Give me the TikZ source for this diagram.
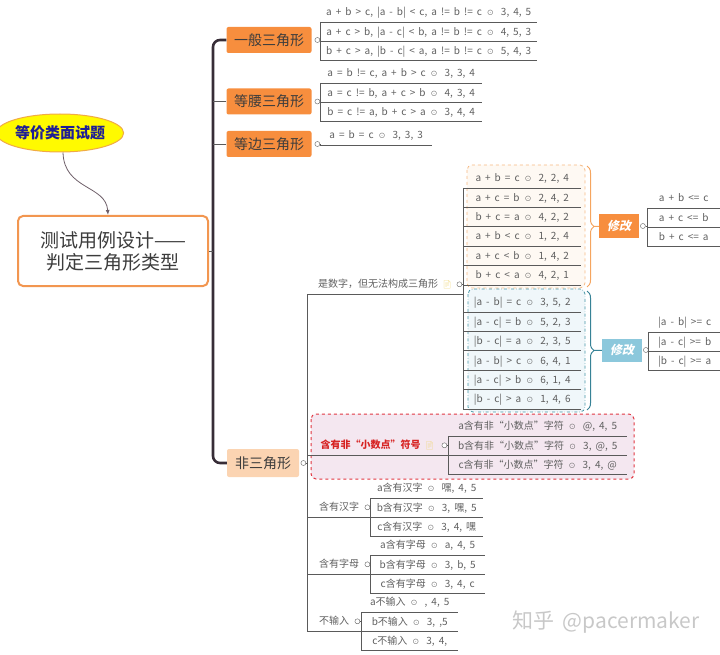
\documentclass[tikz,border=0pt]{standalone}
\usepackage{fontspec}
\setmainfont[WordSpace=1.8]{Noto Sans CJK SC}
\newfontfamily\emofont{Noto Emoji}
\newfontfamily\fixfont[FakeSlant=0.2]{Noto Sans CJK SC}
\usetikzlibrary{positioning,arrows.meta,shapes.geometric,decorations.pathreplacing}
\definecolor{MapOrange}{RGB}{247,142,62}
\definecolor{MapPeach}{RGB}{251,212,178}
\definecolor{MapLine}{RGB}{90,90,90}
\definecolor{MapTrunk}{RGB}{55,45,55}
\definecolor{MapText}{RGB}{95,95,95}
\definecolor{MapDark}{RGB}{60,60,60}
\definecolor{MainEdge}{RGB}{242,150,80}
\definecolor{EqYellow}{RGB}{255,250,0}
\definecolor{EqEdge}{RGB}{240,170,70}
\definecolor{EqBlue}{RGB}{30,30,150}
\definecolor{CurveGray}{RGB}{110,95,105}
\definecolor{ZoneOEdge}{RGB}{246,185,130}
\definecolor{ZoneOFill}{RGB}{254,249,243}
\definecolor{ZoneTEdge}{RGB}{70,150,165}
\definecolor{ZoneTFill}{RGB}{240,247,250}
\definecolor{ZoneREdge}{RGB}{225,55,65}
\definecolor{ZoneRFill}{RGB}{244,231,240}
\definecolor{BraceO}{RGB}{245,165,95}
\definecolor{BraceT}{RGB}{55,130,150}
\definecolor{FixTeal}{RGB}{140,200,220}
\definecolor{NoteYellow}{RGB}{240,215,120}
\definecolor{RedText}{RGB}{215,35,35}
\definecolor{WaterGray}{RGB}{200,200,200}
\newcommand{\ox}{\hspace{5pt}{\fontsize{7}{7}\selectfont ⊙}\hspace{7pt}}
\newcommand{\note}{\hspace{4pt}{\emofont\fontsize{8}{8}\selectfont\color{NoteYellow}📄}}

\begin{document}
\begin{tikzpicture}[x=1pt, y=-1pt, every node/.style={font=\fontsize{10}{12}\selectfont,text=MapText}, topic/.style={fill=MapOrange,rounded corners=2pt,minimum width=85pt,minimum height=26pt,inner sep=0pt,font=\fontsize{14}{16}\selectfont,text=MapDark}, leaf/.style={anchor=south west,minimum width=#1,inner xsep=0pt,inner ysep=4.5pt,text height=8.5pt,text depth=1.5pt,append after command={(\tikzlastnode.south west) edge[conn] (\tikzlastnode.south east)}}, knob/.style={circle,draw=MapLine,fill=white,inner sep=0pt,minimum size=5pt}, conn/.style={draw=MapLine,line width=0.9pt}, trunk/.style={draw=MapTrunk,line width=2.6pt,rounded corners=7pt}, fix/.style={minimum width=40pt,minimum height=23pt,inner sep=0pt,font=\fontsize{12}{14}\fixfont\bfseries,text=white}, zoneO/.style={draw=ZoneOEdge,fill=ZoneOFill,dashed,rounded corners=5pt,line width=0.8pt}, zoneT/.style={draw=ZoneTEdge,fill=ZoneTFill,dash dot,rounded corners=5pt,line width=0.8pt}, zoneR/.style={draw=ZoneREdge,fill=ZoneRFill,dashed,rounded corners=5pt,line width=1pt}, brace/.style={decorate,decoration={brace,amplitude=7pt},line width=1pt}, curvy/.style={-{Latex[length=5pt,width=4pt]},draw=CurveGray,line width=0.8pt}]
\useasboundingbox (0,0) rectangle (720,655);

% boundaries
\draw[zoneO] (467,165) rectangle (585,288);
\draw[zoneT] (468,289) rectangle (585,412);
\draw[zoneR] (311,414) rectangle (634,479);

% central topic
\node[ellipse,draw=EqEdge,line width=1pt,fill=EqYellow,minimum width=116pt,minimum height=38pt,inner sep=0pt,font=\fontsize{15}{17}\selectfont\bfseries,text=EqBlue] (eq) at (60,133) {等价类面试题};
\node[draw=MainEdge,line width=2pt,rounded corners=5pt,fill=white,minimum width=190pt,minimum height=70pt,font=\fontsize{19}{22}\selectfont,text=MapDark,align=center] (main) at (113,251) {测试用例设计——\\判定三角形类型};
\draw[curvy] ([xshift=3pt]eq.south) .. controls (64,190) and (106,185) .. ([xshift=-5pt]main.north);

% main branches
\node[topic] (yiban) at (269,40) {一般三角形};
\node[topic] (dengyao) at (269,101.5) {等腰三角形};
\node[topic] (dengbian) at (269,144) {等边三角形};
\node[topic,fill=MapPeach,minimum width=72pt,minimum height=28pt] (fei) at (263,463) {非三角形};
\node[knob,right=3pt of yiban] (kyiban) {};
\node[knob,right=3pt of dengyao] (kdengyao) {};
\node[knob,right=3pt of dengbian] (kdengbian) {};
\node[knob,right=1.5pt of fei] (kfei) {};
\coordinate (spine) at (213,251);
\draw[trunk] (yiban.west) -| (spine) |- (fei.west);
\draw[conn] (main.east) -- (spine);
\draw[conn] (dengyao.west) -- (dengyao.west -| spine);
\draw[conn] (dengbian.west) -- (dengbian.west -| spine);

% 一般三角形
\node[leaf=217pt] (yb1) at (320,22) {a + b > c, |a - b| < c, a != b != c\ox 3, 4, 5};
\node[leaf=217pt,below=0pt of yb1] (yb2) {a + c > b, |a - c| < b, a != b != c\ox 4, 5, 3};
\node[leaf=217pt,below=0pt of yb2] (yb3) {b + c > a, |b - c| < a, a != b != c\ox 5, 4, 3};
\draw[conn] (yb1.south west) -- (yb3.south west);
\draw[conn] (kyiban) -- (kyiban -| yb1.south west);

% 等腰三角形
\node[leaf=162pt] (dy1) at (320,83) {a = b != c, a + b > c\ox 3, 3, 4};
\node[leaf=162pt,below=0pt of dy1] (dy2) {a = c != b, a + c > b\ox 4, 3, 4};
\node[leaf=162pt,below=0pt of dy2] (dy3) {b = c != a, b + c > a\ox 3, 4, 4};
\draw[conn] (dy1.south west) -- (dy3.south west);
\draw[conn] (kdengyao) -- (kdengyao -| dy1.south west);

% 等边三角形
\node[leaf=112pt] (db1) at (320,145) {a = b = c\ox 3, 3, 3};
\draw[conn] (kdengbian) -- (kdengbian -| db1.south west);

% 非三角形
\node[leaf=156pt] (num) at (307,294) {是数字，但无法构成三角形\note};
\node[knob] (knum) at ([xshift=-4pt]num.east) {};
\node[leaf=141pt,text=RedText,font=\fontsize{10}{12}\selectfont\bfseries] (dot) at (307,455) {含有非“小数点”符号\note};
\node[knob] (kdot) at ([xshift=-4pt]dot.east) {};
\node[leaf=64pt] (han) at (307,517) {含有汉字};
\node[knob] (khan) at ([xshift=-4pt]han.east) {};
\node[leaf=64pt] (zimu) at (307,574) {含有字母};
\node[knob] (kzimu) at ([xshift=-4pt]zimu.east) {};
\node[leaf=54pt] (kong) at (307,631) {不输入};
\node[knob] (kkong) at ([xshift=-4pt]kong.east) {};
\draw[conn] (num.south west) -- (kong.south west);
\draw[conn] (kfei) -- (kfei -| num.south west);

% 是数字，但无法构成三角形
\node[leaf=118pt] (sz1) at (463,188) {a + b = c\ox 2, 2, 4};
\node[leaf=118pt,below=0pt of sz1] (sz2) {a + c = b\ox 2, 4, 2};
\node[leaf=118pt,below=0pt of sz2] (sz3) {b + c = a\ox 4, 2, 2};
\node[leaf=118pt,below=0pt of sz3] (sz4) {a + b < c\ox 1, 2, 4};
\node[leaf=118pt,below=0pt of sz4] (sz5) {a + c < b\ox 1, 4, 2};
\node[leaf=118pt,below=0pt of sz5] (sz6) {b + c < a\ox 4, 2, 1};
\node[leaf=118pt] (sz7) at (463,312) {|a - b| = c\ox 3, 5, 2};
\node[leaf=118pt,below=0pt of sz7] (sz8) {|a - c| = b\ox 5, 2, 3};
\node[leaf=118pt,below=0pt of sz8] (sz9) {|b - c| = a\ox 2, 3, 5};
\node[leaf=118pt,below=0pt of sz9] (sz10) {|a - b| > c\ox 6, 4, 1};
\node[leaf=118pt,below=0pt of sz10] (sz11) {|a - c| > b\ox 6, 1, 4};
\node[leaf=118pt,below=0pt of sz11] (sz12) {|b - c| > a\ox 1, 4, 6};
\draw[conn] (sz1.south west) -- (sz12.south west);
\draw[conn] (knum) -- (knum -| sz1.south west);

% 修改
\draw[brace,draw=BraceO] (587,166) -- (587,287);
\coordinate (tipO) at (594,226.5);
\node[fix,fill=MapOrange] (fixO) at (619,226) {修改};
\draw[draw=BraceO,line width=1pt] (tipO) -- (fixO);
\node[knob,right=1pt of fixO] (kfixO) {};
\node[leaf=73pt] (fo1) at (647,208) {a + b <= c};
\node[leaf=73pt,below=0pt of fo1] (fo2) {a + c <= b};
\node[leaf=73pt,below=0pt of fo2] (fo3) {b + c <= a};
\draw[conn] (fo1.south west) -- (fo3.south west);
\draw[conn] (kfixO) -- (kfixO -| fo1.south west);

\draw[brace,draw=BraceT] (587,291) -- (587,410);
\coordinate (tipT) at (594,350.5);
\node[fix,fill=FixTeal] (fixT) at (622,350) {修改};
\draw[draw=BraceT,line width=1pt] (tipT) -- (fixT);
\node[knob,right=1pt of fixT] (kfixT) {};
\node[leaf=73pt] (ft1) at (648,332) {|a - b| >= c};
\node[leaf=73pt,below=0pt of ft1] (ft2) {|a - c| >= b};
\node[leaf=73pt,below=0pt of ft2] (ft3) {|b - c| >= a};
\draw[conn] (ft1.south west) -- (ft3.south west);
\draw[conn] (kfixT) -- (kfixT -| ft1.south west);

% 含有非“小数点”符号
\node[leaf=179pt] (xs1) at (448,436) {a含有非“小数点”字符\ox @, 4, 5};
\node[leaf=179pt,below=0pt of xs1] (xs2) {b含有非“小数点”字符\ox 3, @, 5};
\node[leaf=179pt,below=0pt of xs2] (xs3) {c含有非“小数点”字符\ox 3, 4, @};
\draw[conn] (xs1.south west) -- (xs3.south west);
\draw[conn] (kdot) -- (kdot -| xs1.south west);

% 含有汉字
\node[leaf=113pt] (hz1) at (370,498) {a含有汉字\ox 嘿, 4, 5};
\node[leaf=113pt,below=0pt of hz1] (hz2) {b含有汉字\ox 3, 嘿, 5};
\node[leaf=113pt,below=0pt of hz2] (hz3) {c含有汉字\ox 3, 4, 嘿};
\draw[conn] (hz1.south west) -- (hz3.south west);
\draw[conn] (khan) -- (khan -| hz1.south west);

% 含有字母
\node[leaf=115pt] (zm1) at (370,555) {a含有字母\ox a, 4, 5};
\node[leaf=115pt,below=0pt of zm1] (zm2) {b含有字母\ox 3, b, 5};
\node[leaf=115pt,below=0pt of zm2] (zm3) {c含有字母\ox 3, 4, c};
\draw[conn] (zm1.south west) -- (zm3.south west);
\draw[conn] (kzimu) -- (kzimu -| zm1.south west);

% 不输入
\node[leaf=97pt] (bs1) at (361,612) {a不输入\ox , 4, 5};
\node[leaf=97pt,below=0pt of bs1] (bs2) {b不输入\ox 3, ,5};
\node[leaf=97pt,below=0pt of bs2] (bs3) {c不输入\ox 3, 4,};
\draw[conn] (bs1.south west) -- (bs3.south west);
\draw[conn] (kkong) -- (kkong -| bs1.south west);

\node[font=\fontsize{21}{23}\selectfont,text=WaterGray] (mark) at (606,622) {知乎 @pacermaker};
\end{tikzpicture}
\end{document}
